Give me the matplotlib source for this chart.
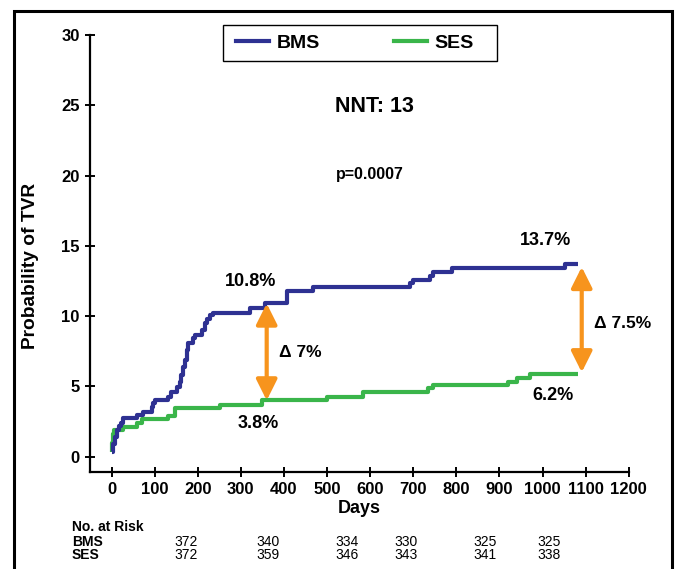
import matplotlib
matplotlib.use("Agg")
import matplotlib.pyplot as plt
from matplotlib import font_manager
from matplotlib.patches import Rectangle
from matplotlib.lines import Line2D
from matplotlib.legend_handler import HandlerLine2D
import matplotlib.transforms as mtransforms

# ---------------- data ----------------
bms_days = [0, 4, 8, 12, 17, 21, 27, 58, 73, 93, 97, 100, 131, 139, 151, 158, 162, 166,
            170, 174, 178, 189, 193, 209, 217, 222, 228, 236, 321, 356, 406, 468, 692,
            700, 739, 746, 789, 1052, 1083]
bms_vals = [0.3, 0.9, 1.4, 1.9, 2.2, 2.4, 2.73, 2.97, 3.2, 3.56, 3.8, 4.04, 4.27, 4.63,
            4.98, 5.34, 5.8, 6.4, 6.9, 7.6, 8.07, 8.43, 8.66, 9.0, 9.5, 9.78, 10.08, 10.2,
            10.55, 10.9, 11.8, 12.06, 12.34, 12.6, 12.86, 13.17, 13.4, 13.69, 13.69]

ses_days = [0, 2, 4, 6, 27, 58, 70, 131, 147, 251, 350, 501, 584, 735, 746, 921, 940,
            971, 1083]
ses_vals = [0.3, 1.0, 1.6, 1.9, 2.14, 2.42, 2.7, 2.9, 3.47, 3.7, 4.02, 4.28, 4.58, 4.87,
            5.1, 5.34, 5.63, 5.9, 5.9]

series_names = ["BMS", "SES"]
x_ticks = [0, 100, 200, 300, 400, 500, 600, 700, 800, 900, 1000, 1100, 1200]
y_ticks = [0, 5, 10, 15, 20, 25, 30]

risk_days = [174, 363, 546, 683, 866, 1015]
risk_bms = [372, 340, 334, 330, 325, 325]
risk_ses = [372, 359, 346, 343, 341, 338]

# annotation values
arrow1_day, arrow1_top, arrow1_bot = 360, 10.9, 4.0
arrow2_day, arrow2_top, arrow2_bot = 1091, 13.5, 6.0

# ---------------- style ----------------
BMS_C = "#2E3192"
SES_C = "#3AB54A"
ORANGE = "#F7941D"
FONT = "Liberation Sans"

try:
    font_manager.findfont("Liberation Sans Narrow", fallback_to_default=False)
    NARROW = "Liberation Sans Narrow"
except Exception:
    NARROW = FONT

plt.rcParams['font.family'] = [FONT, 'DejaVu Sans']

fig = plt.figure(figsize=(6.76, 5.69), dpi=100)
W, H = 676, 569
ax = fig.add_axes([90 / W, 1 - 471.7 / H, (628.7 - 90) / W, (471.7 - 35) / H])

ax.plot(ses_days, ses_vals, drawstyle="steps-post", color=SES_C, lw=3.0, solid_capstyle="butt", label="SES", zorder=3)
ax.plot(bms_days, bms_vals, drawstyle="steps-post", color=BMS_C, lw=3.0, solid_capstyle="butt", label="BMS", zorder=3)

ax.set_xlim(-50, 1200)
ax.set_ylim(-1.07, 30)
ax.set_xticks(x_ticks)
ax.set_yticks(y_ticks)
for s in ["top", "right"]:
    ax.spines[s].set_visible(False)
for s in ["left", "bottom"]:
    ax.spines[s].set_linewidth(1.6)
ax.tick_params(direction="inout", length=7, width=1.4, labelsize=12, pad=4)
for lab in ax.get_xticklabels() + ax.get_yticklabels():
    lab.set_fontweight("bold")

ax.set_xlabel("Days", fontsize=13, fontweight="bold", labelpad=2)
ax.set_ylabel("Probability of TVR", fontsize=13.8, fontweight="bold")
ax.yaxis.set_label_coords(-0.095, 0.471)

# legend (box drawn separately)
fig.patches.append(Rectangle((223 / W, 1 - 61 / H), (497 - 223) / W, 36 / H,
                             transform=fig.transFigure, fill=True, facecolor="white",
                             edgecolor="black", lw=1.0, zorder=5))
handles = [Line2D([], [], color=BMS_C, lw=3.0), Line2D([], [], color=SES_C, lw=3.0)]
leg = fig.legend(handles, series_names, loc="center left",
                 bbox_to_anchor=(236 / W, 1 - 43 / H), ncol=2,
                 borderaxespad=0, borderpad=0, frameon=False, handlelength=1.7,
                 handletextpad=0.4, columnspacing=3.8,
                 prop={"family": FONT, "weight": "bold", "size": 14})
leg.set_zorder(6)

# texts
ax.text(611, 24.9, "NNT: 13", ha="center", va="center", fontsize=15.5, fontweight="bold")
ax.text(600, 20.1, "p=0.0007", ha="center", va="center", fontsize=11.5, fontweight="bold")
ax.text(322, 12.49, "10.8%", ha="center", va="center", fontsize=13, fontweight="bold")
ax.text(340, 2.33, "3.8%", ha="center", va="center", fontsize=13, fontweight="bold")
ax.text(437, 7.38, "\u0394 7%", ha="center", va="center", fontsize=12.5, fontweight="bold")
ax.text(1006, 15.4, "13.7%", ha="center", va="center", fontsize=13, fontweight="bold")
ax.text(1185, 9.44, "\u0394 7.5%", ha="center", va="center", fontsize=12.5, fontweight="bold", clip_on=False)
ax.text(1025, 4.32, "6.2%", ha="center", va="center", fontsize=13, fontweight="bold")

arrowprops = dict(arrowstyle="<|-|>,head_length=0.9,head_width=0.45", color=ORANGE,
                  lw=3.0, shrinkA=0, shrinkB=0, mutation_scale=14)
ax.annotate("", xy=(arrow1_day, arrow1_top), xytext=(arrow1_day, arrow1_bot), arrowprops=arrowprops, zorder=4)
ax.annotate("", xy=(arrow2_day, arrow2_top), xytext=(arrow2_day, arrow2_bot), arrowprops=arrowprops, zorder=4)

# number at risk table
trans = mtransforms.blended_transform_factory(ax.transData, fig.transFigure)
ty_head = 1 - 526.7 / H
ty_bms = 1 - 541.7 / H
ty_ses = 1 - 555 / H
fig.text(71.7 / W, ty_head, "No. at Risk", ha="left", va="center", fontsize=10, fontweight="bold", family=NARROW)
fig.text(71.7 / W, ty_bms, series_names[0], ha="left", va="center", fontsize=10, fontweight="bold", family=NARROW)
fig.text(71.7 / W, ty_ses, series_names[1], ha="left", va="center", fontsize=10, fontweight="bold", family=NARROW)
for d, b, s in zip(risk_days, risk_bms, risk_ses):
    ax.text(d, ty_bms, str(b), transform=trans, ha="center", va="center", fontsize=10, family=NARROW, clip_on=False)
    ax.text(d, ty_ses, str(s), transform=trans, ha="center", va="center", fontsize=10, family=NARROW, clip_on=False)

# outer frame
fig.patches.append(Rectangle((14 / W, -0.05), (672 - 14) / W, (1 - 11 / H) + 0.05,
                             transform=fig.transFigure, fill=False, edgecolor="black",
                             lw=2.2, clip_on=False))

fig.savefig("out.png", dpi=100)
